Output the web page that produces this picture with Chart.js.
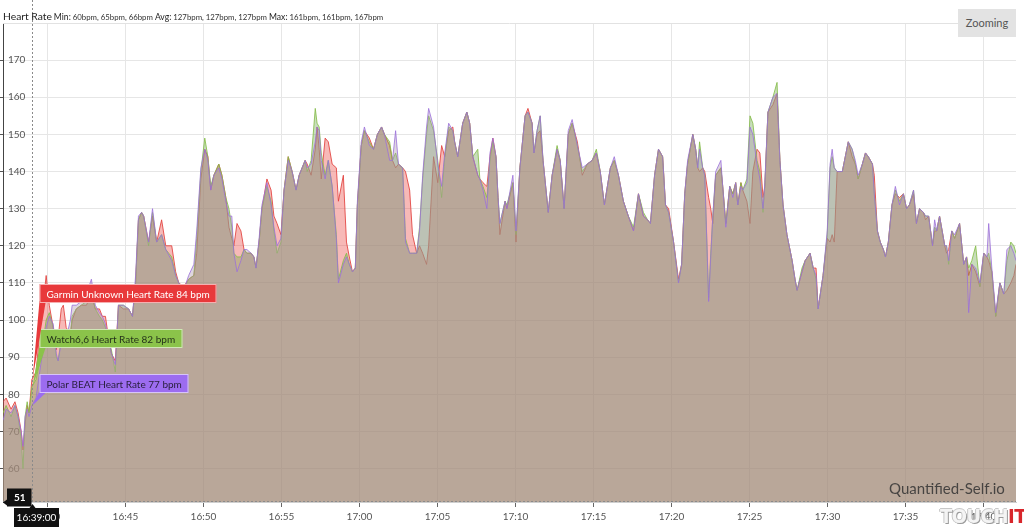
<!DOCTYPE html>
<html>
<head>
<meta charset="utf-8">
<title>Heart Rate</title>
<script src="https://cdn.jsdelivr.net/npm/chart.js@4.4.0/dist/chart.umd.min.js"></script>
<style>
    body { margin: 0; background: #fff; font-family: Lato, sans-serif; }
    #wrap { position: relative; width: 1024px; height: 530px; overflow: hidden; }
    #hr-chart { position: absolute; left: 0; top: 0; }
    #header { position: absolute; left: 3px; top: 10px; white-space: nowrap; color: #333; font-size: 7.8px; }
    #header .title { font-size: 10.3px; color: #222; }
    #header .key { font-size: 8.6px; color: #222; }
    #zoomBtn { position: absolute; left: 958px; top: 9px; width: 58px; height: 28px; line-height: 28px;
               background: #e3e3e3; color: #555; font-size: 11px; text-align: center; }
    #brand { position: absolute; left: 889px; top: 479px; font-size: 15px; color: rgba(50,50,50,0.85); }
    #touchit { position: absolute; left: 940px; top: 504px; font-family: "DejaVu Sans Condensed", sans-serif;
               font-weight: bold; font-size: 20px; letter-spacing: -0.5px; }
    #touchit .t { color: #f4f4f4; text-shadow: 1px 1px 0 #9a9a9a, -1px 0 0 #c8c8c8, 0 -1px 0 #c8c8c8; }
    #touchit .i { color: #d8262b; }
</style>
</head>
<body>
<div id="wrap">
    <canvas id="hr-chart" width="1024" height="530"></canvas>
    <div id="header"><span class="title">Heart Rate</span> <span class="key">Min:</span> 60bpm, 65bpm, 66bpm <span class="key">Avg:</span> 127bpm, 127bpm, 127bpm <span class="key">Max:</span> 161bpm, 161bpm, 167bpm</div>
    <div id="zoomBtn">Zooming</div>
    <div id="brand">Quantified-Self.io</div>
    <div id="touchit"><span class="t">TOUCH</span><span class="i">IT</span></div>
</div>
<script>
// Sample times (shared by all three devices)
var times = [
    '16:37:09','16:37:21','16:37:40','16:37:55','16:38:07','16:38:19','16:38:26','16:38:34','16:38:42','16:38:49',
    '16:39:00','16:39:16','16:39:28','16:39:43','16:39:55','16:40:07','16:40:22','16:40:34','16:40:41','16:40:53',
    '16:41:01','16:41:12','16:41:28','16:41:35','16:41:51','16:42:10','16:42:30','16:42:49','16:43:04','16:43:20',
    '16:43:31','16:43:43','16:43:51','16:44:06','16:44:21','16:44:33','16:44:52','16:45:12','16:45:27','16:45:39',
    '16:45:50','16:46:02','16:46:10','16:46:29','16:46:44','16:47:00','16:47:19','16:47:35','16:47:58','16:48:13',
    '16:48:25','16:48:44','16:49:03','16:49:23','16:49:34','16:49:50','16:50:05','16:50:17','16:50:28','16:50:40',
    '16:50:59','16:51:11','16:51:26','16:51:38','16:51:49','16:51:57','16:52:09','16:52:24','16:52:36','16:52:47',
    '16:53:03','16:53:14','16:53:22','16:53:34','16:53:45','16:54:04','16:54:20','16:54:31','16:54:43','16:54:58',
    '16:55:10','16:55:26','16:55:41','16:55:56','16:56:08','16:56:31','16:56:39','16:56:54','16:57:10','16:57:17',
    '16:57:25','16:57:33','16:57:48','16:58:00','16:58:15','16:58:31','16:58:39','16:58:58','16:59:10','16:59:21',
    '16:59:33','16:59:44','16:59:52','17:00:07','17:00:19','17:00:38','17:00:54','17:01:09','17:01:25','17:01:36',
    '17:01:56','17:02:07','17:02:19','17:02:30','17:02:46','17:02:57','17:03:13','17:03:24','17:03:40','17:03:51',
    '17:04:03','17:04:18','17:04:26','17:04:45','17:05:01','17:05:16','17:05:28','17:05:43','17:05:59','17:06:06',
    '17:06:18','17:06:37','17:06:53','17:07:04','17:07:16','17:07:35','17:07:43','17:07:55','17:08:10','17:08:22',
    '17:08:33','17:08:45','17:08:53','17:09:00','17:09:20','17:09:27','17:09:50','17:10:02','17:10:17','17:10:37',
    '17:10:48','17:11:04','17:11:11','17:11:23','17:11:35','17:11:46','17:12:06','17:12:21','17:12:40','17:12:52',
    '17:13:07','17:13:23','17:13:38','17:13:58','17:14:17','17:14:36','17:14:55','17:15:11','17:15:26','17:15:42',
    '17:16:05','17:16:20','17:16:36','17:16:55','17:17:14','17:17:34','17:17:53','17:18:12','17:18:28','17:18:39',
    '17:18:55','17:19:10','17:19:26','17:19:37','17:19:49','17:20:08','17:20:27','17:20:39','17:20:51','17:21:02',
    '17:21:22','17:21:33','17:21:41','17:21:48','17:22:00','17:22:08','17:22:23','17:22:31','17:22:39','17:22:50',
    '17:23:10','17:23:17','17:23:29','17:23:44','17:23:56','17:24:07','17:24:15','17:24:27','17:24:34','17:24:50',
    '17:25:02','17:25:13','17:25:29','17:25:40','17:25:52','17:25:59','17:26:11','17:26:30','17:26:46','17:26:57',
    '17:27:09','17:27:24','17:27:44','17:27:55','17:28:03','17:28:22','17:28:34','17:28:53','17:29:05','17:29:16',
    '17:29:24','17:29:43','17:29:59','17:30:10','17:30:18','17:30:26','17:30:37','17:30:57','17:31:20','17:31:35',
    '17:31:47','17:31:58','17:32:14','17:32:26','17:32:37','17:32:53','17:33:00','17:33:12','17:33:23','17:33:35',
    '17:33:43','17:33:54','17:34:08','17:34:21','17:34:37','17:34:52','17:35:04','17:35:15','17:35:31','17:35:42',
    '17:35:54','17:36:09','17:36:17','17:36:29','17:36:44','17:36:52','17:37:00','17:37:11','17:37:31','17:37:38',
    '17:37:46','17:37:58','17:38:09','17:38:28','17:38:44','17:38:55','17:39:03','17:39:15','17:39:30','17:39:46',
    '17:40:01','17:40:13','17:40:20','17:40:32','17:40:47','17:41:03','17:41:18','17:41:30','17:41:45','17:41:57',
    '17:42:05'
];

// Heart rate (bpm) per device
var garminHr = [
    78,79,76,78,75,70,65,72,77,75, 84,86,95,104,112,104,98,92,95,103,
    104,98,96,100,103,104,104,107,103,103, 101,101,97,91,89,104,103,103,101,110,
    127,129,128,121,128,121,127,120,120,113, 110,109,111,112,118,138,146,144,135,139,
    142,139,133,125,122,120,126,124,119,118, 118,117,114,121,130,138,135,128,126,123,
    135,144,140,135,139,143,142,139,146,152, 146,138,149,148,142,141,132,139,121,117,
    113,114,131,147,151,149,146,150,152,150, 147,143,141,142,141,140,135,123,118,120,
    118,115,120,144,137,147,144,151,152,148, 144,153,156,153,144,139,138,137,136,144,
    149,144,133,123,132,130,137,121,141,155, 157,153,145,150,151,143,129,139,146,143,
    130,150,153,148,139,142,143,145,140,131, 141,143,139,132,128,124,134,128,127,126,
    139,146,144,131,130,121,111,115,134,142, 150,146,141,140,141,140,133,130,126,139,
    141,136,126,136,134,137,131,137,135,132, 126,140,146,145,133,136,156,158,161,143,
    131,123,116,111,108,113,116,118,114,114, 103,112,122,121,123,121,140,140,148,144,
    142,138,142,145,144,142,139,124,121,119, 117,121,131,134,133,134,130,131,134,126,
    130,129,127,128,120,124,124,128,120,118, 119,124,122,126,115,117,112,115,113,109,
    118,117,116,113,101,110,107,108,110,112, 115
];
var watchHr = [
    75,77,74,77,74,68,60,74,78,75, 82,84,88,94,100,102,98,90,89,95,
    97,96,96,101,103,104,105,108,103,101, 100,98,95,92,86,104,104,103,101,110,
    127,129,128,120,129,121,123,119,117,112, 110,108,111,112,122,140,149,144,136,139,
    142,139,133,130,125,118,117,117,119,118, 118,117,114,121,130,136,132,124,118,121,
    135,144,140,135,139,143,140,143,157,153, 152,145,139,143,136,123,111,116,118,115,
    113,114,131,147,151,148,146,150,152,150, 148,143,145,142,141,122,118,118,118,125,
    138,150,155,151,143,133,144,152,151,148, 144,153,156,153,144,146,138,136,133,143,
    148,144,133,126,132,131,137,123,141,155, 156,153,145,151,155,143,129,139,147,143,
    130,150,153,147,140,142,143,146,140,131, 141,143,139,132,128,125,134,129,127,126,
    139,146,144,131,129,121,110,115,134,142, 150,146,141,148,141,139,106,118,128,139,
    141,136,126,136,134,137,131,137,135,138, 155,153,143,140,129,136,156,160,164,143,
    131,123,116,111,108,114,116,118,114,111, 103,112,123,141,144,141,140,140,148,146,
    142,138,142,145,144,142,134,124,121,119, 117,121,131,135,132,134,130,131,135,126,
    130,129,128,128,120,125,124,128,120,120, 115,124,122,126,115,117,114,116,120,109,
    118,117,118,113,101,110,107,116,121,120, 118
];
var polarHr = [
    73,76,75,77,74,70,66,74,76,74, 77,79,85,92,98,101,99,91,89,94,
    96,95,100,104,104,105,107,111,104,102, 101,99,96,91,88,104,104,103,101,112,
    128,129,128,121,130,121,123,119,116,112, 110,108,112,115,124,141,146,143,135,139,
    141,138,132,128,128,118,113,116,119,119, 118,117,114,122,131,137,131,125,120,122,
    135,143,140,135,139,143,141,142,148,152, 151,143,138,143,136,122,110,115,117,115,
    113,114,132,148,152,147,146,150,152,150, 143,143,151,142,141,121,118,118,118,124,
    139,152,157,152,142,136,145,153,151,148, 144,153,156,153,144,139,138,135,130,145,
    149,144,133,126,132,130,139,124,141,155, 156,153,145,151,155,143,129,139,146,143,
    130,151,154,147,141,142,143,145,140,131, 141,144,139,132,128,124,134,128,127,126,
    139,146,144,131,129,121,110,115,134,143, 150,146,141,146,141,139,105,117,128,140,
    143,136,125,136,133,137,131,136,135,137, 152,150,142,138,130,137,156,160,161,143,
    131,123,116,111,108,113,116,118,114,112, 103,112,124,142,146,141,140,140,148,146,
    143,139,142,145,144,142,134,124,121,119, 117,121,131,136,131,134,130,131,135,126,
    130,129,128,128,120,127,124,128,120,120, 116,124,123,126,115,117,102,115,114,110,
    118,117,126,114,102,110,107,119,120,118, 116
];

var seriesNames = ['Garmin Unknown Heart Rate', 'Watch6,6 Heart Rate', 'Polar BEAT Heart Rate'];
var seriesValues = [garminHr, watchHr, polarHr];

// Axis ticks
var xTickLabels = ['16:40', '16:45', '16:50', '16:55', '17:00', '17:05', '17:10', '17:15', '17:20', '17:25', '17:30', '17:35', '17:40'];
var yTickValues = [60, 70, 80, 90, 100, 110, 120, 130, 140, 150, 160, 170];
var yMin = 51;
var yMax = 180;

// Cursor shown in the picture
var cursorTime = '16:39:00';
var cursorValue = 51;

// Colors
var lineColors = ['rgba(226,64,60,0.85)', 'rgba(134,189,74,0.85)', 'rgba(155,111,219,0.8)'];
var fillColors = ['rgba(235,70,65,0.38)', 'rgba(110,165,80,0.38)', 'rgba(168,150,172,0.38)'];
var balloonColors = ['#e8393b', '#8bc34a', '#9c6cf0'];
var balloonText = ['#ffffff', '#25331a', '#2a2040'];

function toSec(t) {
    var p = t.split(':');
    return (+p[0]) * 3600 + (+p[1]) * 60 + (+(p[2] || 0));
}

function pad(n) {
    return (n < 10 ? '0' : '') + n;
}

function fmtTime(sec) {
    return pad(Math.floor(sec / 3600)) + ':' + pad(Math.floor(sec % 3600 / 60));
}

// Build the datasets from the arrays above (Garmin at the back, Polar in front)
var datasets = [];
for (var i = 0; i < seriesNames.length; i++) {
    var points = [];
    for (var j = 0; j < times.length; j++) {
        points.push({ x: toSec(times[j]), y: seriesValues[i][j] });
    }
    datasets.push({
        label: seriesNames[i],
        data: points,
        order: seriesNames.length - i,
        borderColor: lineColors[i],
        backgroundColor: fillColors[i],
        borderWidth: 1,
        fill: 'start',
        pointRadius: 0,
        tension: 0
    });
}

function drawBalloon(ctx, text, left, bottom, px, py, bg, fg) {
    ctx.font = '10px Lato';
    var w = Math.round(ctx.measureText(text).width) + 14;
    var h = 19;
    var top = bottom - h;
    ctx.fillStyle = bg;
    // tail pointing at the value
    ctx.beginPath();
    ctx.moveTo(left, bottom - 2);
    ctx.lineTo(px, py);
    ctx.lineTo(left + 6, bottom);
    ctx.closePath();
    ctx.fill();
    ctx.fillRect(left, top, w, h);
    ctx.strokeStyle = 'rgba(255,255,255,0.6)';
    ctx.lineWidth = 1;
    ctx.strokeRect(left + 0.5, top + 0.5, w - 1, h - 1);
    ctx.fillStyle = fg;
    ctx.textBaseline = 'middle';
    ctx.textAlign = 'left';
    ctx.fillText(text, left + 7, top + h / 2 + 1);
    return top;
}

// Draws the crosshair, the value balloons and the axis labels of the cursor
var cursorPlugin = {
    id: 'cursor',
    afterDatasetsDraw: function(chart) {
        var ctx = chart.ctx;
        var xs = chart.scales.x;
        var ys = chart.scales.y;
        var area = chart.chartArea;
        var cx = Math.round(xs.getPixelForValue(toSec(cursorTime))) + 0.5;
        var cy = Math.round(ys.getPixelForValue(cursorValue)) - 0.5;
        var idx = times.indexOf(cursorTime);

        ctx.save();
        // top border of the plot
        ctx.strokeStyle = '#e2e2e2';
        ctx.beginPath();
        ctx.moveTo(area.left, area.top + 0.5);
        ctx.lineTo(area.right, area.top + 0.5);
        ctx.stroke();

        // dashed crosshair
        ctx.setLineDash([2, 2]);
        ctx.strokeStyle = '#8a8a8a';
        ctx.beginPath();
        ctx.moveTo(cx, 0);
        ctx.lineTo(cx, area.bottom);
        ctx.moveTo(area.left, cy);
        ctx.lineTo(area.right, cy);
        ctx.stroke();
        ctx.setLineDash([]);

        // balloons stacked upwards from the lowest one
        var left = cx + 7;
        var nextBottom = Infinity;
        for (var k = seriesNames.length - 1; k >= 0; k--) {
            var v = seriesValues[k][idx];
            var py = ys.getPixelForValue(v);
            var bottom = Math.min(Math.round(py) - 12, nextBottom);
            var top = drawBalloon(ctx, seriesNames[k] + ' ' + v + ' bpm', left, bottom, cx, py, balloonColors[k], balloonText[k]);
            nextBottom = top - 26;
        }

        // value label on the y axis
        ctx.fillStyle = '#111';
        ctx.fillRect(area.left + 4, cy - 13, cx - area.left - 5, 18);
        ctx.beginPath();
        ctx.moveTo(area.left + 4, cy - 2);
        ctx.lineTo(area.left, cy + 1);
        ctx.lineTo(area.left + 4, cy + 4);
        ctx.fill();
        ctx.fillStyle = '#fff';
        ctx.font = 'bold 10px Lato';
        ctx.textAlign = 'center';
        ctx.textBaseline = 'middle';
        ctx.fillText(String(cursorValue), (area.left + 4 + cx) / 2, cy - 3.5);

        // time label on the x axis
        var tw = 45, tTop = area.bottom + 6;
        ctx.fillStyle = '#111';
        ctx.fillRect(cx + 4 - tw / 2, tTop, tw, 19);
        ctx.beginPath();
        ctx.moveTo(cx - 3, tTop);
        ctx.lineTo(cx, tTop - 4);
        ctx.lineTo(cx + 3, tTop);
        ctx.fill();
        ctx.fillStyle = '#fff';
        ctx.font = '10px Lato';
        ctx.fillText(cursorTime, cx + 4, tTop + 10);
        ctx.restore();
    }
};

var ctx = document.getElementById('hr-chart').getContext('2d');
var hrChart = new Chart(ctx, {
    type: 'line',
    data: { datasets: datasets },
    options: {
        responsive: false,
        animation: false,
        devicePixelRatio: 1,
        layout: { padding: { top: 23, left: 0, right: 8, bottom: 3 } },
        scales: {
            x: {
                type: 'linear',
                min: toSec(times[0]),
                max: toSec(times[times.length - 1]),
                afterBuildTicks: function(scale) {
                    scale.ticks = xTickLabels.map(function(t) { return { value: toSec(t) }; });
                },
                afterFit: function(scale) {
                    scale.paddingLeft = 0;
                    scale.paddingRight = 0;
                },
                ticks: {
                    callback: function(value) { return fmtTime(value); },
                    color: '#555',
                    font: { family: 'Lato', size: 10 },
                    maxRotation: 0,
                    padding: 4
                },
                grid: { color: '#e6e6e6', tickColor: '#666', tickLength: 5 },
                border: { color: '#cfcfcf' }
            },
            y: {
                min: yMin,
                max: yMax,
                afterBuildTicks: function(scale) {
                    scale.ticks = yTickValues.map(function(v) { return { value: v }; });
                },
                afterFit: function(scale) {
                    scale.width = 3;
                },
                ticks: {
                    mirror: true,
                    padding: 5,
                    color: '#555',
                    font: { family: 'Lato', size: 10 }
                },
                grid: { color: '#e6e6e6', tickColor: '#555', tickLength: 3 },
                border: { color: '#444' }
            }
        },
        plugins: {
            legend: { display: false },
            tooltip: { enabled: false }
        }
    },
    plugins: [cursorPlugin]
});
</script>
</body>
</html>
